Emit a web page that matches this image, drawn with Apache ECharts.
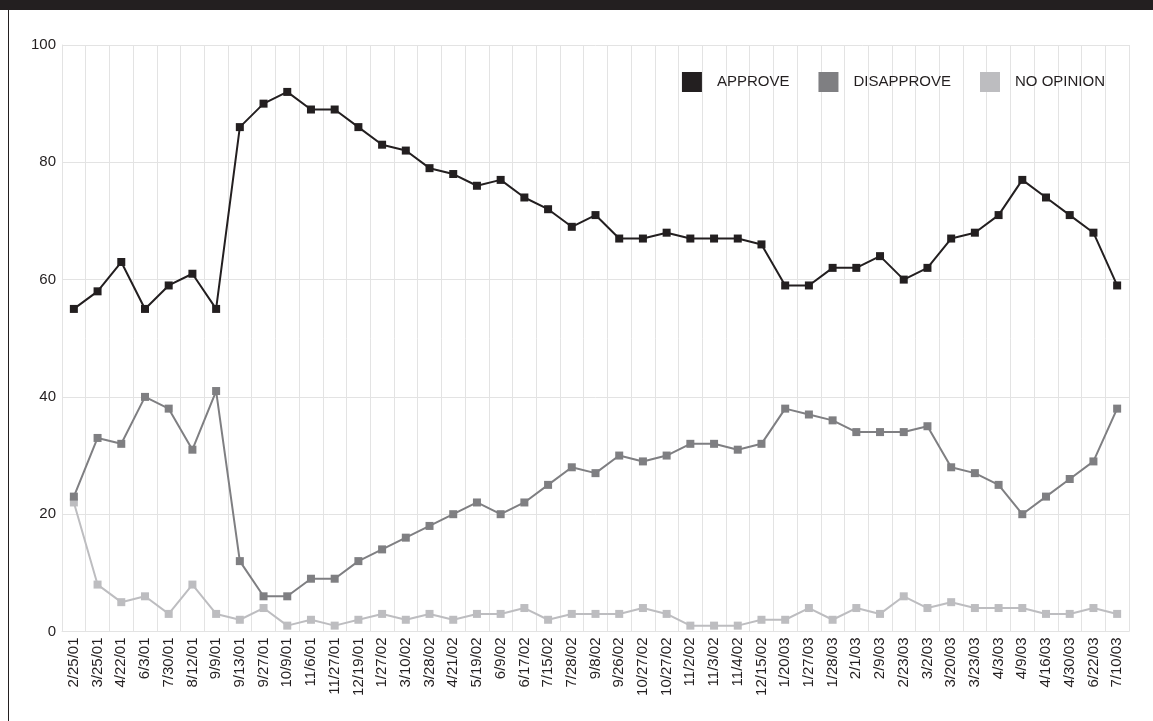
<!DOCTYPE html>
<html>
<head>
<meta charset="utf-8">
<script src="https://cdn.jsdelivr.net/npm/echarts@6/dist/echarts.min.js"></script>
<style>
html,body{margin:0;padding:0;background:#fff;}
#chart{width:1153px;height:721px;}
</style>
</head>
<body>
<div id="chart"></div>
<script>
const dates = ["2/25/01","3/25/01","4/22/01","6/3/01","7/30/01","8/12/01","9/9/01","9/13/01","9/27/01","10/9/01","11/6/01","11/27/01","12/19/01","1/27/02","3/10/02","3/28/02","4/21/02","5/19/02","6/9/02","6/17/02","7/15/02","7/28/02","9/8/02","9/26/02","10/27/02","10/27/02","11/2/02","11/3/02","11/4/02","12/15/02","1/20/03","1/27/03","1/28/03","2/1/03","2/9/03","2/23/03","3/2/03","3/20/03","3/23/03","4/3/03","4/9/03","4/16/03","4/30/03","6/22/03","7/10/03"];
const approve = [55,58,63,55,59,61,55,86,90,92,89,89,86,83,82,79,78,76,77,74,72,69,71,67,67,68,67,67,67,66,59,59,62,62,64,60,62,67,68,71,77,74,71,68,59];
const disapprove = [23,33,32,40,38,31,41,12,6,6,9,9,12,14,16,18,20,22,20,22,25,28,27,30,29,30,32,32,31,32,38,37,36,34,34,34,35,28,27,25,20,23,26,29,38];
const noOpinion = [22,8,5,6,3,8,3,2,4,1,2,1,2,3,2,3,2,3,3,4,2,3,3,3,4,3,1,1,1,2,2,4,2,4,3,6,4,5,4,4,4,3,3,4,3];
const yTicks = [0,20,40,60,80,100];

const seriesNames = ["APPROVE","DISAPPROVE","NO OPINION"];
const seriesColors = ["#231f20","#7f7f82","#bdbdc0"];
const seriesData = [approve, disapprove, noOpinion];

const chart = echarts.init(document.getElementById('chart'));
const font = '"Liberation Sans", Arial, Helvetica, sans-serif';
chart.setOption({
  animation: false,
  backgroundColor: '#ffffff',
  textStyle: { fontFamily: font },
  graphic: [
    { type: 'rect', shape: { x: 0, y: 0, width: 1153, height: 10 }, style: { fill: '#231f20' }, silent: true },
    { type: 'rect', shape: { x: 8, y: 10, width: 1, height: 711 }, style: { fill: '#231f20' }, silent: true }
  ],
  legend: {
    data: seriesNames.map((n, i) => ({ name: n, icon: 'rect', itemStyle: { color: seriesColors[i] } })),
    right: 48,
    top: 72,
    padding: 0,
    itemWidth: 20,
    itemHeight: 20,
    itemGap: 29,
    textStyle: { fontSize: 15, color: '#231f20', fontFamily: font, padding: [0, 0, 0, 10] }
  },
  grid: { left: 62, right: 24, top: 45, bottom: 89.5, containLabel: false },
  xAxis: {
    type: 'category',
    data: dates,
    boundaryGap: true,
    axisLine: { show: true, lineStyle: { color: '#e3e3e3', width: 1 } },
    axisTick: { show: false },
    axisLabel: { interval: 0, rotate: 90, margin: 6, fontSize: 15, color: '#231f20', fontFamily: font },
    splitLine: { show: true, interval: 0, lineStyle: { color: '#e3e3e3', width: 1 } }
  },
  yAxis: {
    type: 'value',
    min: yTicks[0],
    max: yTicks[yTicks.length - 1],
    interval: 20,
    axisLine: { show: true, lineStyle: { color: '#e3e3e3' } },
    axisTick: { show: false },
    axisLabel: { margin: 6, fontSize: 15, color: '#231f20', fontFamily: font },
    splitLine: { show: true, lineStyle: { color: '#e3e3e3', width: 1 } }
  },
  series: seriesNames.map((n, i) => ({
    name: n,
    type: 'line',
    data: seriesData[i],
    symbol: 'rect',
    symbolSize: 8,
    showSymbol: true,
    z: 10 - i,
    lineStyle: { color: seriesColors[i], width: 2 },
    itemStyle: { color: seriesColors[i] }
  }))
});
</script>
</body>
</html>
